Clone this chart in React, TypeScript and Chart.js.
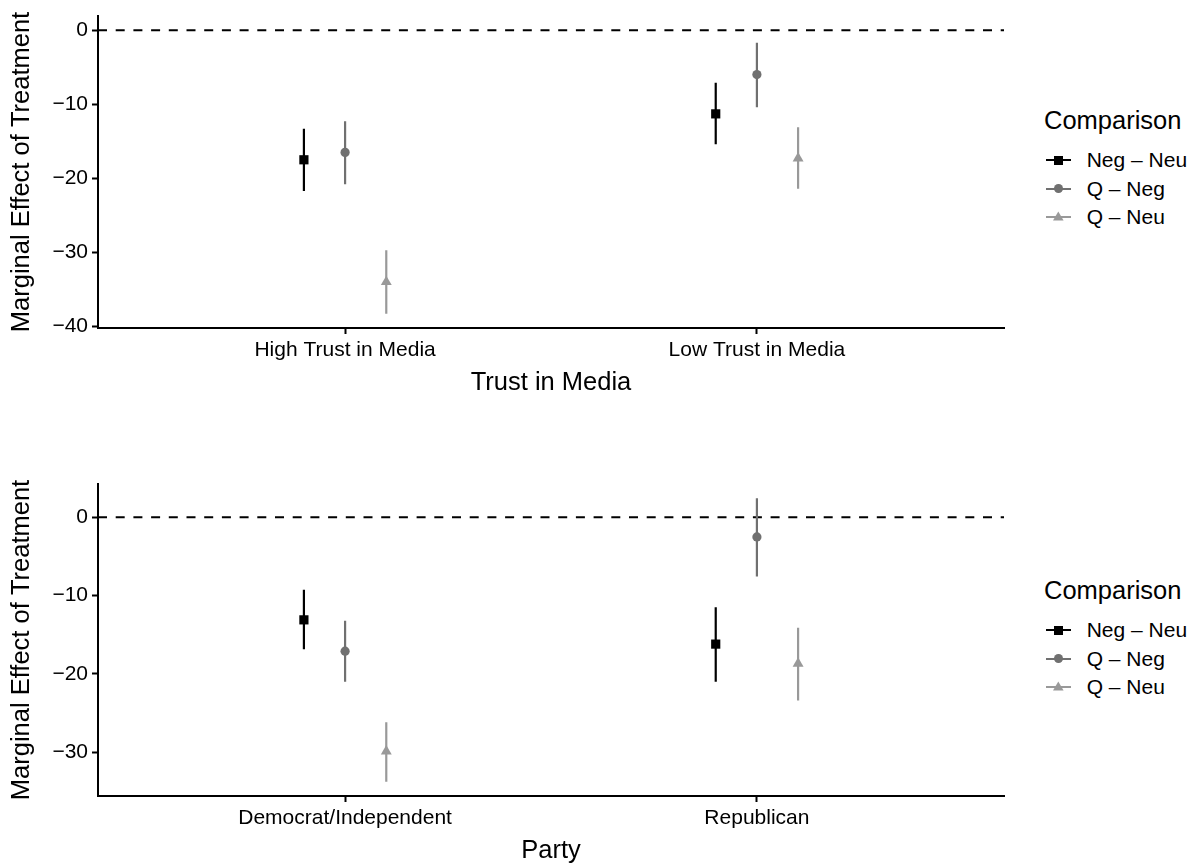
import React, { useEffect, useRef } from "react";
import { Chart, registerables } from "chart.js";
Chart.register(...registerables);

const FONT = "'Liberation Sans', Arial, Helvetica, sans-serif";
Chart.defaults.font.family = FONT;

// Series (legend order)
const SERIES = ["Neg – Neu", "Q – Neg", "Q – Neu"];
const COLORS = ["#000000", "#707070", "#999999"];
const SHAPES = ["rect", "circle", "triangle"];
const RADII = [6.5, 4.6, 6.3];
const DODGE = [-0.1, 0, 0.1];

// Panel 1: Trust in Media
const TRUST_CATS = ["High Trust in Media", "Low Trust in Media"];
const TRUST_NEGNEU_EST = [-17.5, -11.3];
const TRUST_NEGNEU_LO = [-21.7, -15.4];
const TRUST_NEGNEU_HI = [-13.3, -7.1];
const TRUST_QNEG_EST = [-16.5, -6.0];
const TRUST_QNEG_LO = [-20.8, -10.4];
const TRUST_QNEG_HI = [-12.3, -1.7];
const TRUST_QNEU_EST = [-34.0, -17.3];
const TRUST_QNEU_LO = [-38.3, -21.4];
const TRUST_QNEU_HI = [-29.7, -13.1];
const TRUST_YTICKS = [0, -10, -20, -30, -40];

// Panel 2: Party
const PARTY_CATS = ["Democrat/Independent", "Republican"];
const PARTY_NEGNEU_EST = [-13.1, -16.2];
const PARTY_NEGNEU_LO = [-16.85, -21.0];
const PARTY_NEGNEU_HI = [-9.25, -11.5];
const PARTY_QNEG_EST = [-17.1, -2.5];
const PARTY_QNEG_LO = [-21.0, -7.55];
const PARTY_QNEG_HI = [-13.2, 2.45];
const PARTY_QNEU_EST = [-29.9, -18.7];
const PARTY_QNEU_LO = [-33.8, -23.4];
const PARTY_QNEU_HI = [-26.2, -14.1];
const PARTY_YTICKS = [0, -10, -20, -30];

const Y_TITLE = "Marginal Effect of Treatment";
const LEGEND_TITLE = "Comparison";
const REF_LINE = 0;

const CANVAS_W = 1030;
const X_MIN = 0.4;
const X_MAX = 2.6;
const SMALL = 21;
const BIG = 25.5;

type PanelProps = {
  cats: string[];
  est: number[][];
  lo: number[][];
  hi: number[][];
  yTicks: number[];
  xTitle: string;
  canvasTop: number;
  canvasH: number;
  plotTop: number;
  plotBottom: number;
  titlePadBottom: number;
};

function Panel(p: PanelProps) {
  const ref = useRef<HTMLCanvasElement>(null);
  useEffect(() => {
    if (!ref.current) return;
    const all = [...p.lo.flat(), ...p.hi.flat(), REF_LINE];
    const dmin = Math.min(...all);
    const dmax = Math.max(...all);
    const ex = (dmax - dmin) * 0.05;
    const datasets: any[] = [];
    datasets.push({
      data: [
        { x: X_MIN, y: REF_LINE },
        { x: X_MAX, y: REF_LINE },
      ],
      showLine: true,
      borderColor: "#000",
      borderWidth: 2,
      borderDash: [9, 8.7],
      pointRadius: 0,
      order: 3,
    });
    SERIES.forEach((name, s) => {
      const seg: any[] = [];
      p.cats.forEach((_c, i) => {
        const x = i + 1 + DODGE[s];
        seg.push({ x, y: p.lo[s][i] }, { x, y: p.hi[s][i] }, { x, y: null });
      });
      datasets.push({
        label: name + " interval",
        data: seg,
        showLine: true,
        spanGaps: false,
        borderColor: COLORS[s],
        borderWidth: 2.2,
        pointRadius: 0,
        order: 2,
      });
      datasets.push({
        label: name,
        data: p.cats.map((_c, i) => ({ x: i + 1 + DODGE[s], y: p.est[s][i] })),
        pointStyle: SHAPES[s],
        pointRadius: RADII[s],
        backgroundColor: COLORS[s],
        borderColor: COLORS[s],
        borderWidth: 0,
        showLine: false,
        order: 1,
      });
    });
    const chart = new Chart(ref.current, {
      type: "scatter",
      data: { datasets },
      options: {
        responsive: false,
        animation: false,
        events: [],
        layout: { padding: { top: p.plotTop, right: CANVAS_W - 1004, left: 0, bottom: 0 } },
        plugins: { legend: { display: false }, tooltip: { enabled: false } },
        scales: {
          x: {
            type: "linear",
            min: X_MIN,
            max: X_MAX,
            afterBuildTicks: (sc: any) => {
              sc.ticks = p.cats.map((_c, i) => ({ value: i + 1 }));
            },
            afterFit: (sc: any) => {
              sc.height = p.canvasH - p.plotBottom;
            },
            ticks: {
              callback: (v: any) => p.cats[Math.round(v) - 1] ?? "",
              color: "#000",
              font: { size: SMALL },
              padding: 4,
              maxRotation: 0,
              autoSkip: false,
            },
            grid: {
              display: true,
              drawOnChartArea: false,
              drawTicks: true,
              tickLength: 6,
              tickColor: "#000",
              tickWidth: 2,
            },
            border: { display: true, color: "#000", width: 2 },
            title: {
              display: true,
              text: p.xTitle,
              color: "#000",
              font: { size: BIG },
              padding: { top: 0, bottom: p.titlePadBottom },
            },
          },
          y: {
            type: "linear",
            min: dmin - ex,
            max: dmax + ex,
            afterBuildTicks: (sc: any) => {
              sc.ticks = p.yTicks.map((v) => ({ value: v }));
            },
            afterFit: (sc: any) => {
              sc.width = 98;
            },
            ticks: {
              callback: (v: any) => String(v).replace("-", "\u2212"),
              color: "#000",
              font: { size: SMALL, lineHeight: 1 },
              padding: 4,
            },
            grid: {
              display: true,
              drawOnChartArea: false,
              drawTicks: true,
              tickLength: 6,
              tickColor: "#000",
              tickWidth: 2,
            },
            border: { display: true, color: "#000", width: 2 },
            title: {
              display: true,
              text: Y_TITLE,
              color: "#000",
              font: { size: BIG },
              padding: { top: 6.4, bottom: 0 },
            },
          },
        },
      } as any,
    });
    return () => chart.destroy();
  }, []);
  return (
    <canvas
      ref={ref}
      width={CANVAS_W}
      height={p.canvasH}
      style={{ position: "absolute", left: 0, top: p.canvasTop, width: CANVAS_W, height: p.canvasH }}
    />
  );
}

function Marker({ k, cx, cy }: { k: number; cx: number; cy: number }) {
  const c = COLORS[k];
  if (k === 0)
    return <div style={{ position: "absolute", left: cx - 4.5, top: cy - 4.5, width: 9, height: 9, background: c }} />;
  if (k === 1)
    return (
      <div
        style={{ position: "absolute", left: cx - 4.4, top: cy - 4.4, width: 8.8, height: 8.8, borderRadius: "50%", background: c }}
      />
    );
  return (
    <div
      style={{
        position: "absolute",
        left: cx - 5.3,
        top: cy - 6,
        width: 10.6,
        height: 9.2,
        background: c,
        clipPath: "polygon(50% 0, 100% 100%, 0 100%)",
      }}
    />
  );
}

function Legend({ top }: { top: number }) {
  return (
    <>
      <div
        style={{
          position: "absolute",
          left: 1044,
          top: top - 15,
          height: 30,
          lineHeight: "30px",
          fontSize: BIG,
          whiteSpace: "nowrap",
          color: "#000",
        }}
      >
        {LEGEND_TITLE}
      </div>
      {SERIES.map((s, k) => {
        const cy = top + 40 + k * 28.7;
        return (
          <React.Fragment key={s}>
            <div style={{ position: "absolute", left: 1046, top: cy - 1, width: 25, height: 2, background: COLORS[k] }} />
            <Marker k={k} cx={1058.3} cy={cy} />
            <div
              style={{
                position: "absolute",
                left: 1086.7,
                top: cy - 15,
                height: 30,
                lineHeight: "30px",
                fontSize: SMALL,
                whiteSpace: "nowrap",
                color: "#000",
              }}
            >
              {s}
            </div>
          </React.Fragment>
        );
      })}
    </>
  );
}

export default function App() {
  return (
    <div
      style={{
        position: "absolute",
        left: 0,
        top: 0,
        width: 1200,
        height: 867,
        background: "#fff",
        fontFamily: FONT,
        overflow: "hidden",
      }}
    >
      <Panel
        cats={TRUST_CATS}
        est={[TRUST_NEGNEU_EST, TRUST_QNEG_EST, TRUST_QNEU_EST]}
        lo={[TRUST_NEGNEU_LO, TRUST_QNEG_LO, TRUST_QNEU_LO]}
        hi={[TRUST_NEGNEU_HI, TRUST_QNEG_HI, TRUST_QNEU_HI]}
        yTicks={TRUST_YTICKS}
        xTitle="Trust in Media"
        canvasTop={0}
        canvasH={410}
        plotTop={16}
        plotBottom={328}
        titlePadBottom={11.7}
      />
      <Panel
        cats={PARTY_CATS}
        est={[PARTY_NEGNEU_EST, PARTY_QNEG_EST, PARTY_QNEU_EST]}
        lo={[PARTY_NEGNEU_LO, PARTY_QNEG_LO, PARTY_QNEU_LO]}
        hi={[PARTY_NEGNEU_HI, PARTY_QNEG_HI, PARTY_QNEU_HI]}
        yTicks={PARTY_YTICKS}
        xTitle="Party"
        canvasTop={467}
        canvasH={400}
        plotTop={17}
        plotBottom={329}
        titlePadBottom={0.7}
      />
      <Legend top={120} />
      <Legend top={590} />
    </div>
  );
}
